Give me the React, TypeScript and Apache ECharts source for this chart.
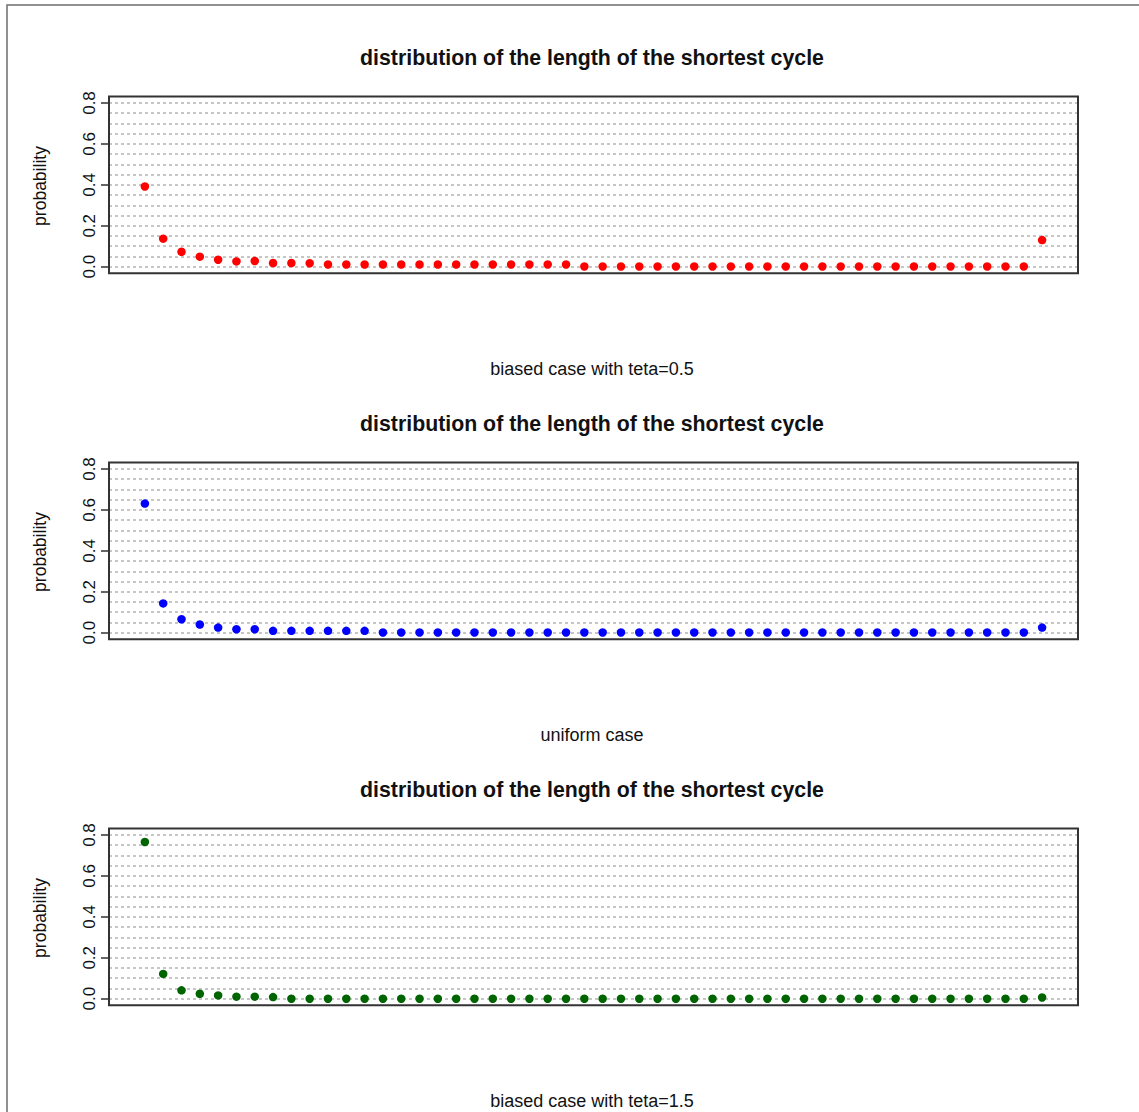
import React, { useEffect, useRef } from "react";
import * as echarts from "echarts";

const cycleLengths = [
  1, 2, 3, 4, 5, 6, 7, 8, 9, 10, 11, 12, 13, 14, 15, 16, 17, 18, 19, 20, 21, 22, 23, 24, 25,
  26, 27, 28, 29, 30, 31, 32, 33, 34, 35, 36, 37, 38, 39, 40, 41, 42, 43, 44, 45, 46, 47, 48, 49, 50,
];

// biased case teta=0.5
const redValues = [
  0.392, 0.137, 0.073, 0.049, 0.034, 0.026, 0.028, 0.018, 0.018, 0.017,
  0.011, 0.011, 0.011, 0.011, 0.011, 0.011, 0.011, 0.011, 0.011, 0.011,
  0.011, 0.011, 0.011, 0.011, 0.001, 0.001, 0.001, 0.001, 0.001, 0.001,
  0.001, 0.001, 0.001, 0.001, 0.001, 0.001, 0.001, 0.001, 0.001, 0.001,
  0.001, 0.001, 0.001, 0.001, 0.001, 0.001, 0.001, 0.001, 0.001, 0.130,
];

// uniform case
const blueValues = [
  0.631, 0.143, 0.066, 0.040, 0.025, 0.017, 0.017, 0.009, 0.009, 0.009,
  0.009, 0.009, 0.009, 0.001, 0.001, 0.001, 0.001, 0.001, 0.001, 0.001,
  0.001, 0.001, 0.001, 0.001, 0.001, 0.001, 0.001, 0.001, 0.001, 0.001,
  0.001, 0.001, 0.001, 0.001, 0.001, 0.001, 0.001, 0.001, 0.001, 0.001,
  0.001, 0.001, 0.001, 0.001, 0.001, 0.001, 0.001, 0.001, 0.001, 0.025,
];

// biased case teta=1.5
const greenValues = [
  0.766, 0.121, 0.041, 0.024, 0.016, 0.010, 0.010, 0.008, 0.000, 0.000,
  0.000, 0.000, 0.000, 0.000, 0.000, 0.000, 0.000, 0.000, 0.000, 0.000,
  0.000, 0.000, 0.000, 0.000, 0.000, 0.000, 0.000, 0.000, 0.000, 0.000,
  0.000, 0.000, 0.000, 0.000, 0.000, 0.000, 0.000, 0.000, 0.000, 0.000,
  0.000, 0.000, 0.000, 0.000, 0.000, 0.000, 0.000, 0.000, 0.000, 0.006,
];

const mainTitle = "distribution of the length of the shortest cycle";
const subLabels = ["biased case with teta=0.5", "uniform case", "biased case with teta=1.5"];
const yLabel = "probability";
const pointColors = ["#ff0000", "#0000ff", "#006400"];

const FONT = '"Liberation Sans", Arial, sans-serif';

export default function App() {
  const ref = useRef<HTMLDivElement>(null);

  useEffect(() => {
    if (!ref.current) return;
    const chart = echarts.init(ref.current, null, { renderer: "svg" });
    const panels = [redValues, blueValues, greenValues];
    const PANEL_DY = 366;
    const BOX_LEFT = 109;
    const BOX_W = 969;
    const BOX_TOP = 96.5;
    const BOX_H = 176.8;
    const PLOT_TOP = 103;
    const PLOT_H = 163.7;

    const grids: any[] = [];
    const xAxes: any[] = [];
    const yAxes: any[] = [];
    const series: any[] = [];
    const graphics: any[] = [];

    graphics.push({
      type: "rect",
      silent: true,
      z: 0,
      shape: { x: 7, y: 5, width: 1400, height: 1400 },
      style: { fill: "none", stroke: "#6e6e6e", lineWidth: 1.5 },
    });

    panels.forEach((vals, i) => {
      const dy = i * PANEL_DY;
      grids.push({ left: BOX_LEFT, top: PLOT_TOP + dy, width: BOX_W, height: PLOT_H });
      xAxes.push({ type: "value", gridIndex: i, min: -0.96, max: 51.96, show: false });
      yAxes.push({
        type: "value",
        gridIndex: i,
        min: 0,
        max: 0.8,
        interval: 0.05,
        position: "left",
        axisLine: { show: false },
        axisTick: { show: false },
        axisLabel: { show: false },
        splitLine: { show: true, lineStyle: { color: "#b4b4b4", type: [3, 3], width: 1.5 } },
      });
      yAxes.push({
        type: "value",
        gridIndex: i,
        min: 0,
        max: 0.8,
        interval: 0.2,
        position: "left",
        axisLine: { show: true, lineStyle: { color: "#333", width: 1.5 } },
        axisTick: { show: true, length: 8, lineStyle: { color: "#333", width: 1.5 } },
        axisLabel: {
          rotate: 90,
          margin: 11,
          fontSize: 17,
          color: "#111",
          fontFamily: FONT,
          formatter: (v: number) => v.toFixed(1),
        },
        splitLine: { show: false },
      });
      series.push({
        type: "scatter",
        xAxisIndex: i,
        yAxisIndex: 2 * i + 1,
        data: cycleLengths.map((x, k) => [x, vals[k]]),
        symbol: "circle",
        symbolSize: 8.5,
        clip: false,
        itemStyle: { color: pointColors[i], opacity: 1 },
        z: 5,
      });
      graphics.push({
        type: "rect",
        silent: true,
        z: 10,
        shape: { x: BOX_LEFT, y: BOX_TOP + dy, width: BOX_W, height: BOX_H },
        style: { fill: "none", stroke: "#333", lineWidth: 2 },
      });
      graphics.push({
        type: "text",
        silent: true,
        x: 592,
        y: 58 + dy,
        style: {
          text: mainTitle,
          fontSize: 21.3,
          fontWeight: "bold",
          fontFamily: FONT,
          fill: "#111",
          align: "center",
          verticalAlign: "middle",
        },
      });
      graphics.push({
        type: "text",
        silent: true,
        x: 592,
        y: 369 + dy,
        style: {
          text: subLabels[i],
          fontSize: 18,
          fontFamily: FONT,
          fill: "#111",
          align: "center",
          verticalAlign: "middle",
        },
      });
      graphics.push({
        type: "text",
        silent: true,
        x: 40,
        y: 186 + dy,
        rotation: Math.PI / 2,
        style: {
          text: yLabel,
          fontSize: 17.5,
          fontFamily: FONT,
          fill: "#111",
          align: "center",
          verticalAlign: "middle",
        },
      });
    });

    chart.setOption({
      animation: false,
      backgroundColor: "#ffffff",
      grid: grids,
      xAxis: xAxes,
      yAxis: yAxes,
      series,
      graphic: { elements: graphics },
    });

    return () => {
      chart.dispose();
    };
  }, []);

  return (
    <div
      ref={ref}
      style={{ position: "absolute", left: 0, top: 0, width: 1139, height: 1112, background: "#fff" }}
    />
  );
}
